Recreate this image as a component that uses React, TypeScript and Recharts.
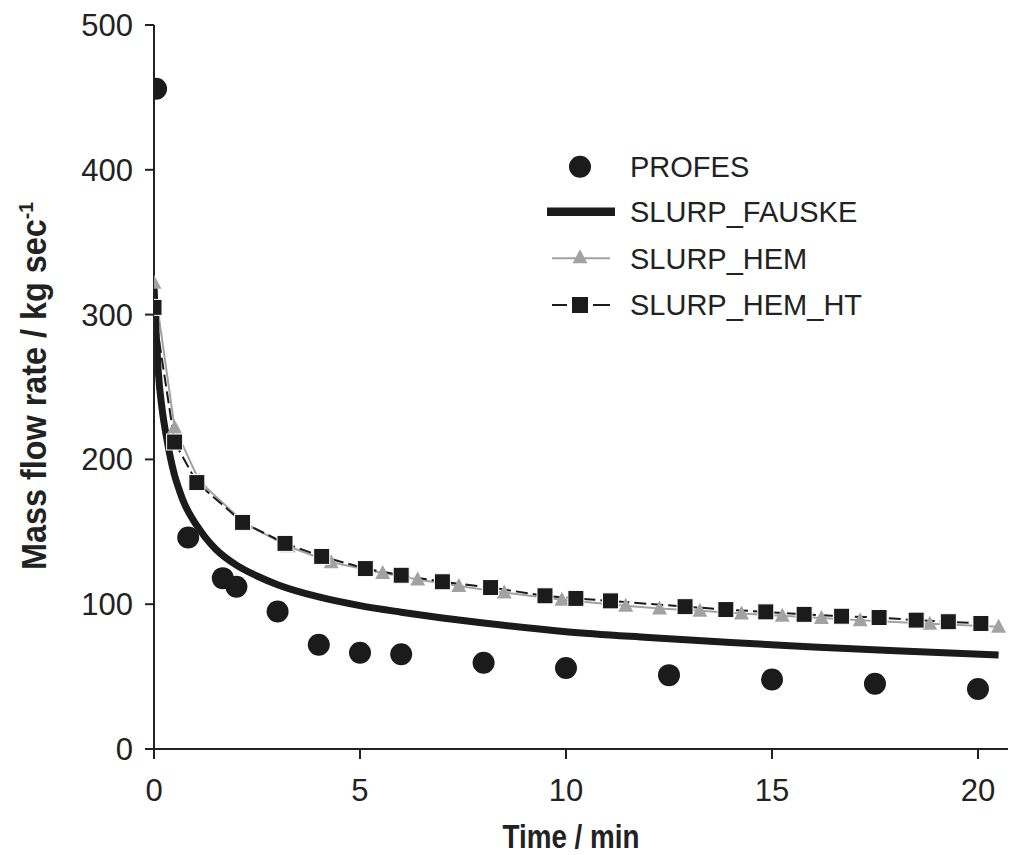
import React from "react";
import { ComposedChart, Line, Scatter, XAxis, YAxis, Legend } from "recharts";

// ---- data ----
const PROFES_T = [0.05, 0.83, 1.67, 2.0, 3.0, 4.0, 5.0, 6.0, 8.0, 10.0, 12.5, 15.0, 17.5, 20.0];
const PROFES_Q = [456, 146, 118, 112, 95, 72, 66.5, 65.5, 59.5, 56, 51, 48, 45, 41.5];

const FAUSKE_T = [0, 0.05, 0.1, 0.2, 0.3, 0.4, 0.5, 0.6, 0.7, 0.85, 1.0, 1.25, 1.5, 2.0, 2.5, 3.0, 4.0, 5.0, 6.0, 7.0, 8.0, 10.0, 12.0, 14.0, 16.0, 18.0, 20.5];
const FAUSKE_Q = [320, 288, 262, 234, 216, 201, 189, 180, 172, 163, 156, 146, 138, 127, 119.5, 113.5, 105, 99, 94.5, 90.5, 87, 81, 77, 73.5, 70.5, 67.8, 65];

const HEM_T = [0, 0.5, 1.1, 2.2, 3.25, 4.3, 5.55, 6.4, 7.4, 8.5, 9.9, 11.45, 12.27, 13.25, 14.26, 15.25, 16.2, 17.14, 18.83, 20.5];
const HEM_Q = [322, 222, 185, 156, 140, 129, 121.5, 117, 112.5, 108, 103, 99, 97, 95.5, 93.5, 92, 90.5, 89, 86.5, 84.5];

const HEMHT_T = [0, 0.5, 1.04, 2.15, 3.18, 4.07, 5.13, 6.0, 7.0, 8.17, 9.49, 10.24, 11.08, 12.89, 13.88, 14.85, 15.78, 16.69, 17.6, 18.5, 19.28, 20.07];
const HEMHT_Q = [305, 212, 184, 156.5, 142, 133, 124.6, 120, 115.5, 111.5, 105.8, 104, 102.3, 98.3, 96.3, 94.7, 93, 91.7, 90.8, 89, 87.9, 86.7];

const X_TICKS = [0, 5, 10, 15, 20];
const Y_TICKS = [0, 100, 200, 300, 400, 500];
const LEGEND_NAMES = ["PROFES", "SLURP_FAUSKE", "SLURP_HEM", "SLURP_HEM_HT"];

const zip = (t: number[], q: number[]) => t.map((x, i) => ({ x, y: q[i] }));
const profesData = zip(PROFES_T, PROFES_Q);
const fauskeData = zip(FAUSKE_T, FAUSKE_Q);
const hemData = zip(HEM_T, HEM_Q);
const hemHtData = zip(HEMHT_T, HEMHT_Q);

const BLACK = "#1b1b1b";
const GRAY = "#a2a2a2";
const AXIS = "#222";
const TICK_FONT = "'Liberation Sans', Arial, Helvetica, sans-serif";
const TITLE_FONT = "'Liberation Sans Narrow', 'Arial Narrow', 'Liberation Sans', Arial, sans-serif";

const XTick = (p: any) => (
  <text x={p.x} y={p.y} dy="0.72em" textAnchor="middle" fontSize={31} fontFamily={TICK_FONT} fill="#222">
    {p.payload.value}
  </text>
);
const YTick = (p: any) => (
  <text x={p.x} y={p.y} dy="0.355em" textAnchor="end" fontSize={31} fontFamily={TICK_FONT} fill="#222">
    {p.payload.value}
  </text>
);

const XTitle = (p: any) => {
  const vb = p.viewBox || { x: 146, y: 741 };
  return (
    <text x={vb.x + 417} y={840} textAnchor="middle" fontSize={34} fontWeight="bold"
      fontFamily={TITLE_FONT} fill="#222" textLength={137} lengthAdjust="spacingAndGlyphs">
      Time / min
    </text>
  );
};
const YTitle = (p: any) => {
  const vb = p.viewBox || { y: 17, height: 724 };
  const cy = vb.y + vb.height / 2 - 1;
  return (
    <text x={38} y={cy} transform={`rotate(-90 38 ${cy})`} textAnchor="middle" fontSize={35}
      fontWeight="bold" fontFamily={TITLE_FONT} fill="#222" textLength={368} lengthAdjust="spacingAndGlyphs">
      Mass flow rate / kg sec<tspan fontSize={21} dy={-13}>-1</tspan>
    </text>
  );
};

const Square = (p: any) => (
  <rect key={`sq-${p.index}`} x={p.cx - 8} y={p.cy - 8} width={16} height={16} fill={BLACK} stroke="#fff" strokeWidth={1} />
);
const Tri = (p: any) => (
  <polygon key={`tr-${p.index}`} points={`${p.cx},${p.cy - 8} ${p.cx + 7.5},${p.cy + 6} ${p.cx - 7.5},${p.cy + 6}`} fill={GRAY} />
);
const Dot = (p: any) => <circle cx={p.cx} cy={p.cy} r={11} fill={BLACK} />;

const LegendBox = () => {
  const rows = [26.7, 71.7, 118.3, 165];
  return (
    <svg width={340} height={190} style={{ display: "block" }}>
      {LEGEND_NAMES.map((name, i) => {
        const y = rows[i];
        let sample: React.ReactNode = null;
        if (i === 0) sample = <circle cx={40} cy={y} r={11} fill={BLACK} />;
        if (i === 1) sample = <line x1={7} x2={75} y1={y} y2={y} stroke={BLACK} strokeWidth={8.5} />;
        if (i === 2)
          sample = (
            <g>
              <line x1={12} x2={70} y1={y} y2={y} stroke={GRAY} strokeWidth={2} />
              <polygon points={`40,${y - 9} 47.5,${y + 5} 32.5,${y + 5}`} fill={GRAY} />
            </g>
          );
        if (i === 3)
          sample = (
            <g>
              <line x1={12} x2={27} y1={y} y2={y} stroke={BLACK} strokeWidth={2} />
              <line x1={53} x2={70} y1={y} y2={y} stroke={BLACK} strokeWidth={2} />
              <rect x={32} y={y - 8} width={16} height={16} fill={BLACK} />
            </g>
          );
        return (
          <g key={name}>
            {sample}
            <text x={90} y={y} dy="0.355em" fontSize={29} fontFamily={TICK_FONT} fill="#222">
              {name}
            </text>
          </g>
        );
      })}
    </svg>
  );
};

export default function App() {
  return (
    <ComposedChart width={1008} height={847} margin={{ top: 17, right: 3, bottom: 2, left: 0 }}>
      <XAxis type="number" dataKey="x" domain={[0, 20.85]} ticks={X_TICKS} allowDataOverflow
        height={104} tick={<XTick />} tickSize={10} tickMargin={20}
        axisLine={{ stroke: AXIS, strokeWidth: 2 }} tickLine={{ stroke: AXIS, strokeWidth: 2 }}
        label={(p: any) => <XTitle {...p} />} />
      <YAxis type="number" dataKey="y" domain={[0, 500]} ticks={Y_TICKS} width={146}
        tick={<YTick />} tickSize={9} tickMargin={12}
        axisLine={{ stroke: AXIS, strokeWidth: 2 }} tickLine={{ stroke: AXIS, strokeWidth: 2 }}
        label={(p: any) => <YTitle {...p} />} />
      <Legend layout="vertical" align="center" verticalAlign="middle" content={() => <LegendBox />}
        wrapperStyle={{ left: 532, top: 132, width: 340, height: 190 }} />
      <Line data={hemData} dataKey="y" type="linear" stroke={GRAY} strokeWidth={2}
        dot={(p: any) => <Tri {...p} />} isAnimationActive={false} />
      <Line data={hemHtData} dataKey="y" type="linear" stroke={BLACK} strokeWidth={2} strokeDasharray="12 5"
        dot={(p: any) => <Square {...p} />} isAnimationActive={false} />
      <Line data={fauskeData} dataKey="y" type="monotone" stroke={BLACK} strokeWidth={7}
        dot={false} isAnimationActive={false} />
      <Scatter data={profesData} dataKey="y" fill={BLACK} shape={(p: any) => <Dot {...p} />} isAnimationActive={false} />
    </ComposedChart>
  );
}
